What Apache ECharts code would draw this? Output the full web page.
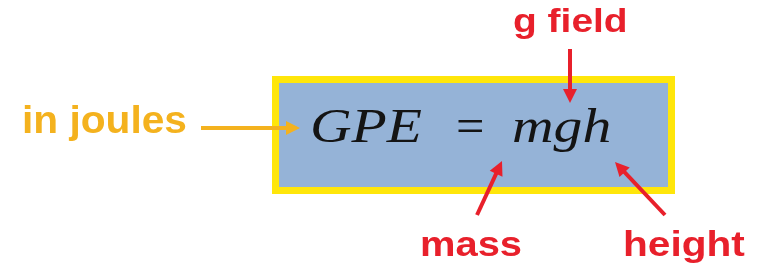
<!DOCTYPE html>
<html>
<head>
<meta charset="utf-8">
<script src="https://cdn.jsdelivr.net/npm/echarts@6/dist/echarts.min.js"></script>
<style>html,body{margin:0;padding:0;background:#fff}#c{width:763px;height:264px}</style>
</head>
<body>
<div id="c"></div>
<script>
// ---- content ----
const labelTexts = ['g field', 'in joules', 'mass', 'height'];
const labelKinds = ['red', 'orange', 'red', 'red'];
const equationParts = ['GPE', '=', 'mgh'];
const arrowKinds = ['red', 'orange', 'red', 'red'];

// ---- layout (diagram coordinates, on hidden pixel-unit axes) ----
const layout = {
  box: [272, 76, 675, 194],
  labelAnchors: [[513, 34], [22, 135], [420, 258], [623, 258]],
  equationAnchors: [[310, 145], [456, 145], [512, 145]],
  arrows: [
    [[570, 49], [570, 103]],
    [[201, 128], [300, 128]],
    [[477, 215], [502, 161]],
    [[665, 215], [615, 162]]
  ]
};

const colors = { red: '#e8202b', orange: '#f4b21e', yellow: '#ffe60a', blue: '#95b3d7', ink: '#141414' };
const labelFont = [33, 38, 35, 35];
const labelScale = [1.18, 1.07, 1.14, 1.16];
const headLen = 14;

const chart = echarts.init(document.getElementById('c'), null, { renderer: 'canvas' });

function textEl(api, pt, text, fs, scaleX, fill, fontFamily, style) {
  const c = api.coord(pt);
  return {
    type: 'text', x: c[0], y: c[1] - 0.33 * fs, scaleX: scaleX,
    style: { text: text, fill: fill, font: style + ' ' + fs + 'px ' + fontFamily,
             textAlign: 'left', textVerticalAlign: 'middle' }
  };
}

// pull the line end back so the triangle's tip lands on the arrow's end point
function tipAdjusted(a) {
  const dx = a[1][0] - a[0][0], dy = a[1][1] - a[0][1];
  const L = Math.sqrt(dx * dx + dy * dy);
  const k = (headLen / 2) / L;
  return [a[0], [a[1][0] - dx * k, a[1][1] - dy * k]];
}

chart.setOption({
  animation: false,
  grid: { left: 0, right: 0, top: 0, bottom: 0 },
  xAxis: { type: 'value', min: 0, max: 763, show: false },
  yAxis: { type: 'value', min: 0, max: 264, inverse: true, show: false },
  series: [
    {
      type: 'custom', coordinateSystem: 'cartesian2d', silent: true, z: 1,
      data: [layout.box],
      renderItem: function (params, api) {
        const p0 = api.coord([api.value(0), api.value(1)]);
        const p1 = api.coord([api.value(2), api.value(3)]);
        const b = 7;
        return { type: 'group', children: [
          { type: 'rect', shape: { x: p0[0], y: p0[1], width: p1[0] - p0[0], height: p1[1] - p0[1] }, style: { fill: colors.yellow } },
          { type: 'rect', shape: { x: p0[0] + b, y: p0[1] + b, width: p1[0] - p0[0] - 2 * b, height: p1[1] - p0[1] - 2 * b }, style: { fill: colors.blue } }
        ]};
      }
    },
    {
      type: 'custom', coordinateSystem: 'cartesian2d', silent: true, z: 3,
      data: equationParts.map((t, i) => layout.equationAnchors[i].concat([i])),
      renderItem: function (params, api) {
        const i = api.value(2);
        const upright = equationParts[i] === '=';
        return textEl(api, [api.value(0), api.value(1)], equationParts[i], 48, upright ? 1.05 : 1.2, colors.ink,
          '"Liberation Serif", "DejaVu Serif", serif', upright ? 'normal' : 'italic');
      }
    },
    {
      type: 'custom', coordinateSystem: 'cartesian2d', silent: true, z: 3,
      data: labelTexts.map((t, i) => layout.labelAnchors[i].concat([i])),
      renderItem: function (params, api) {
        const i = api.value(2);
        return textEl(api, [api.value(0), api.value(1)], labelTexts[i], labelFont[i], labelScale[i],
          colors[labelKinds[i]], '"Liberation Sans", Arial, sans-serif', 'bold');
      }
    },
    {
      type: 'lines', coordinateSystem: 'cartesian2d', silent: true, z: 4,
      symbol: ['none', 'triangle'], symbolSize: [13, headLen],
      data: layout.arrows.map((a, i) => ({
        coords: tipAdjusted(a),
        lineStyle: { color: colors[arrowKinds[i]], width: 4, opacity: 1 }
      })),
      lineStyle: { width: 4, opacity: 1 }
    }
  ]
});
</script>
</body>
</html>
